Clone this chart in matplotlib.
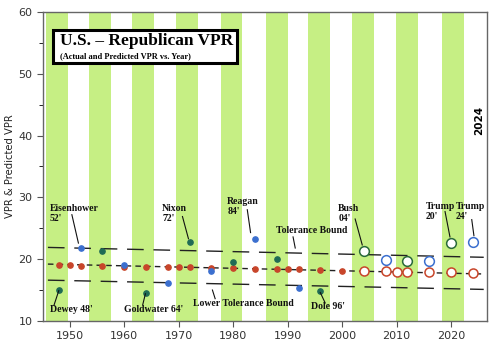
import numpy as np
import matplotlib.pyplot as plt

# election years and actual republican VPR
years = [1948, 1952, 1956, 1960, 1964, 1968, 1972, 1976, 1980, 1984,
         1988, 1992, 1996, 2004, 2008, 2012, 2016, 2020, 2024]
actual = [15.0, 21.8, 21.3, 19.1, 14.5, 16.1, 22.8, 18.1, 19.5, 23.2,
          20.1, 15.4, 14.8, 21.4, 19.9, 19.7, 19.75, 22.6, 22.8]
in_band = [1, 0, 1, 0, 1, 0, 1, 0, 1, 0, 1, 0, 1, 1, 0, 1, 0, 1, 0]
future = [0, 0, 0, 0, 0, 0, 0, 0, 0, 0, 0, 0, 0, 1, 1, 1, 1, 1, 1]

# predicted VPR
pred_years = [1948, 1950, 1952, 1956, 1960, 1964, 1968, 1970, 1972, 1976, 1980,
              1984, 1988, 1990, 1992, 1996, 2000,
              2004, 2008, 2010, 2012, 2016, 2020, 2024]
pred = [19.05, 19.0, 18.95, 18.95, 18.8, 18.75, 18.7, 18.7, 18.65, 18.5, 18.5,
        18.4, 18.4, 18.35, 18.35, 18.3, 18.15,
        18.1, 18.1, 18.0, 18.0, 17.95, 17.85, 17.7]

# trend line and tolerance bounds (end points)
line_x = [1946, 2026]
center_y = [19.2, 17.6]
upper_y = [21.9, 20.3]
lower_y = [16.6, 15.1]

# highlighter bands (start year)
band_start = [1945.6, 1953.5, 1961.5, 1969.6, 1977.7, 1986.1, 1993.8, 2001.9, 2009.9, 2018.4]
band_w = 4.0

# annotations: text, text pos, line start, line end
notes = [
    ("Eisenhower\n52'", (1946.3, 28.9), (1950.4, 27.2), (1951.6, 22.6)),
    ("Dewey 48'", (1946.3, 11.8), (1948.0, 14.9), (1947.1, 12.5)),
    ("Goldwater 64'", (1959.9, 11.8), (1963.9, 14.4), (1963.4, 12.6)),
    ("Nixon\n72'", (1967.0, 28.9), (1970.7, 26.9), (1971.8, 23.3)),
    ("Lower Tolerance Bound", (1972.7, 12.8), (1976.2, 15.0), (1976.7, 13.6)),
    ("Reagan\n84'", (1978.9, 30.0), (1982.6, 28.0), (1983.2, 24.3)),
    ("Tolerance Bound", (1987.9, 24.6), (1991.0, 23.6), (1991.4, 21.8)),
    ("Dole 96'", (1994.3, 12.3), (1996.0, 14.6), (1996.9, 12.9)),
    ("Bush\n04'", (1999.3, 28.9), (2002.4, 26.5), (2003.7, 22.3)),
    ("Trump\n20'", (2015.4, 29.2), (2018.9, 27.7), (2019.8, 23.6)),
    ("Trump\n24'", (2020.9, 29.2), (2023.8, 26.4), (2024.2, 23.8)),
]

fig = plt.figure(figsize=(5, 3.55), dpi=100)
ax = fig.add_axes([0.086, 0.096, 0.888, 0.870])

for b in band_start:
    ax.axvspan(b, b + band_w, color='#c6ef84', lw=0, zorder=0)

ax.plot(line_x, center_y, color='#222222', lw=1.0, dashes=(4, 3), zorder=2)
ax.plot(line_x, upper_y, color='#222222', lw=1.0, dashes=(12, 7), zorder=2)
ax.plot(line_x, lower_y, color='#222222', lw=1.0, dashes=(12, 7), zorder=2)

for yr, p in zip(pred_years, pred):
    if yr >= 2004:
        ax.plot(yr, p, 'o', ms=6.5, mfc='white', mec='#c8452a', mew=1.1, zorder=4)
    else:
        ax.plot(yr, p, 'o', ms=3.8, color='#c8452a', zorder=4)

for yr, a, g, f in zip(years, actual, in_band, future):
    c = '#1f6b55' if g else '#3b6fcf'
    if f:
        c = '#2a6a3a' if g else '#3b6fcf'
        ax.plot(yr, a, 'o', ms=7, mfc='white', mec=c, mew=1.1, zorder=4)
    else:
        ax.plot(yr, a, 'o', ms=3.8, color=c, zorder=4)

for txt, pos, p0, p1 in notes:
    ax.text(pos[0], pos[1], txt, family='Liberation Serif', fontweight='bold',
            fontsize=7, va='top' if '\n' in txt else 'center', ha='left',
            color='#111111', linespacing=1.1, zorder=5)
    ax.plot([p0[0], p1[0]], [p0[1], p1[1]], color='#111111', lw=0.8, zorder=5)

# title box
ax.text(0.038, 0.905, "U.S. \u2013 Republican VPR", transform=ax.transAxes,
        family='Liberation Serif', fontweight='bold', fontsize=12.5, va='center',
        zorder=6)
ax.text(0.038, 0.856, "(Actual and Predicted VPR vs. Year)", transform=ax.transAxes,
        family='Liberation Serif', fontweight='bold', fontsize=6, va='center',
        zorder=6)
box = plt.Rectangle((0.022, 0.835), 0.416, 0.107, transform=ax.transAxes,
                    fc='white', ec='black', lw=2.2, zorder=5)
ax.add_patch(box)

ax.text(0.982, 0.65, "2024", transform=ax.transAxes, rotation=90,
        fontsize=7.5, fontweight='bold', ha='center', va='center', zorder=6)

ax.set_xlim(1945.1, 2026.6)
ax.set_ylim(10, 60)
ax.set_xticks([1950, 1960, 1970, 1980, 1990, 2000, 2010, 2020])
ax.set_yticks([10, 20, 30, 40, 50, 60])
ax.set_yticks(np.arange(15, 60, 10), minor=True)
ax.tick_params(labelsize=8, colors='#555555', labelcolor='#333333', length=4)
ax.tick_params(which='minor', length=3)
ax.set_ylabel("VPR & Predicted VPR", fontsize=7.2, color='#222222')
ax.yaxis.set_label_coords(-0.064, 0.5)
for s in ax.spines.values():
    s.set_color('#666666')
    s.set_linewidth(1.0)

fig.savefig('out.png', dpi=100)
